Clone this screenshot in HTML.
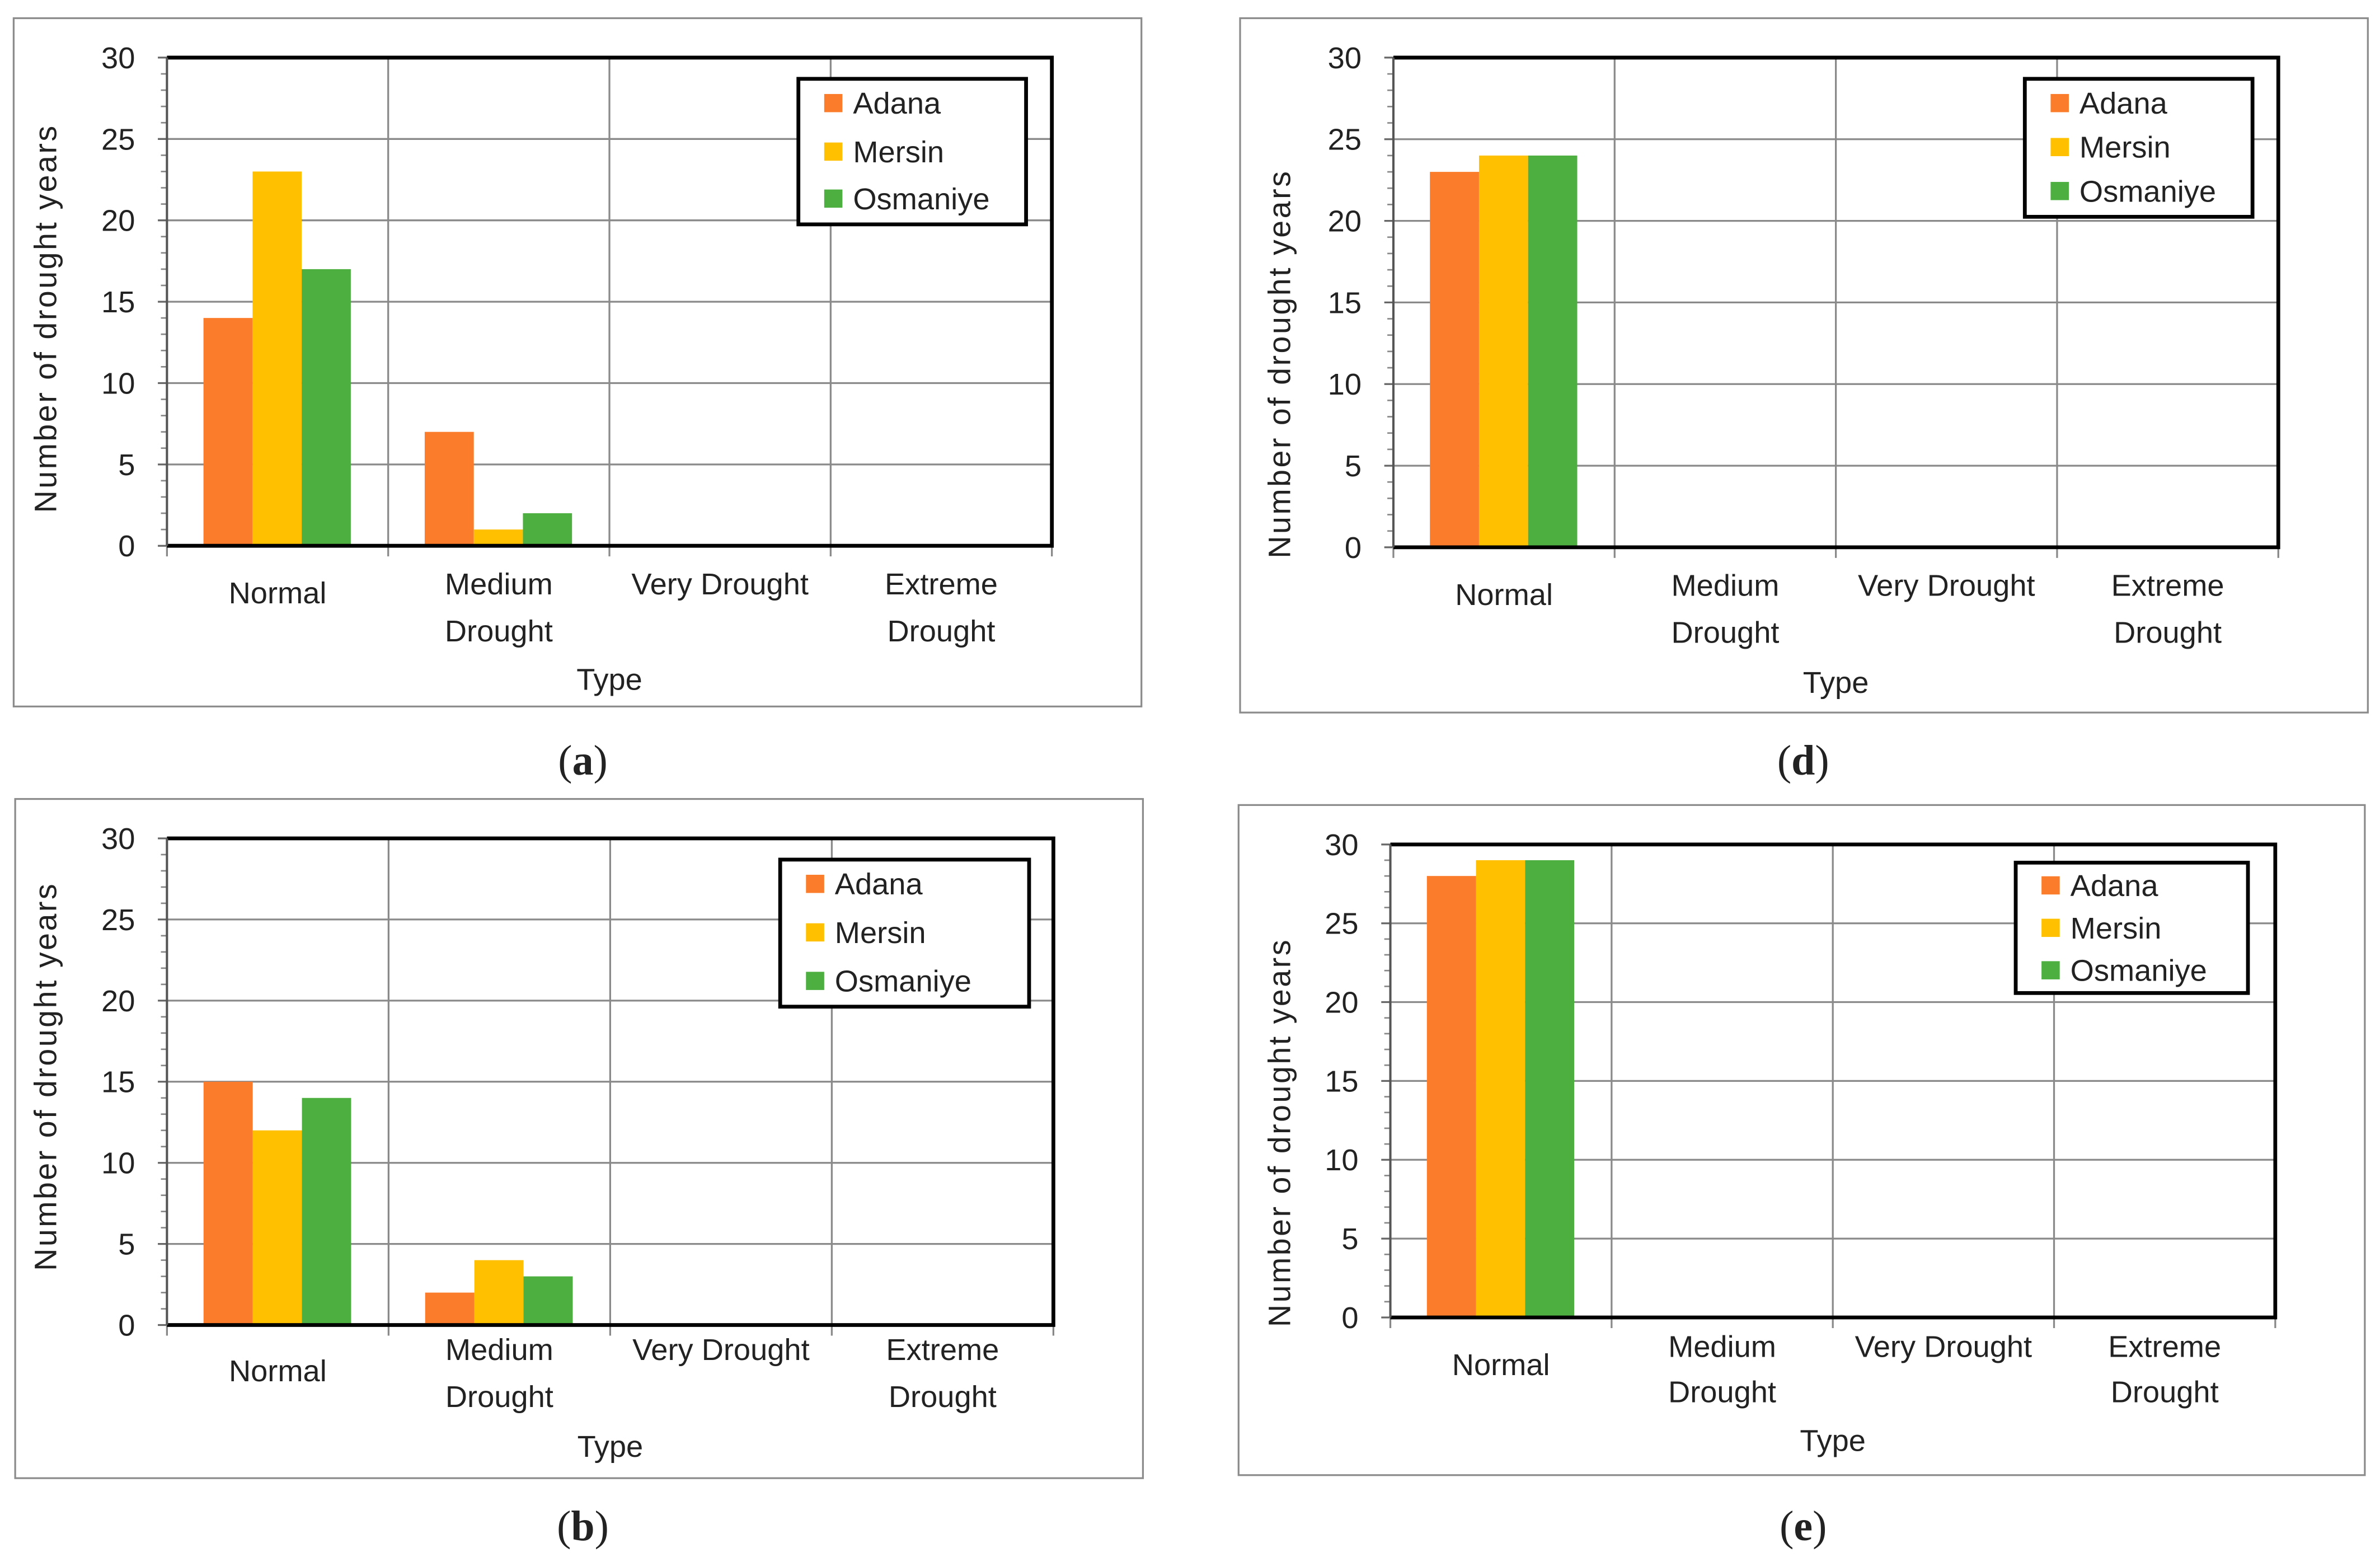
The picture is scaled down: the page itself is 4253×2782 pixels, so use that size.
<!DOCTYPE html>
<html><head><meta charset="utf-8"><style>
html,body{margin:0;padding:0;background:#fff}
svg{display:block}
text{font-family:"Liberation Sans",sans-serif;fill:#222}
</style></head><body>
<svg id="fig" width="4253" height="2782" viewBox="0 0 1568 1027" preserveAspectRatio="none" xmlns="http://www.w3.org/2000/svg"></svg>
<script>
const categories = ["Normal","Medium Drought","Very Drought","Extreme Drought"];
const seriesNames = ["Adana","Mersin","Osmaniye"];
const seriesColors = ["#fb7d2b","#ffc000","#4caf3f"];
const yTicks = [0,5,10,15,20,25,30];
const valuesA = [[14,7,0,0],[23,1,0,0],[17,2,0,0]];
const valuesB = [[15,2,0,0],[12,4,0,0],[14,3,0,0]];
const valuesD = [[23,0,0,0],[24,0,0,0],[24,0,0,0]];
const valuesE = [[28,0,0,0],[29,0,0,0],[29,0,0,0]];

const panels = [
 {id:"a",vals:valuesA,box:[9,12,752,466],plot:[110,38,693,360],leg:[526,52,676,148],legY:[68,100,131],lab1:391,lab2:[385,416],typeY:448,ytx:30,ytc:210,cap:[384,502]},
 {id:"d",vals:valuesD,box:[817,12,1560,470],plot:[918,38,1501,361],leg:[1334,52,1484,143],legY:[68,97,126],lab1:392,lab2:[386,417],typeY:450,ytx:843,ytc:240,cap:[1188,502]},
 {id:"b",vals:valuesB,box:[10,527,753,975],plot:[110,553,694,874],leg:[514,567,678,664],legY:[583,615,647],lab1:904,lab2:[890,921],typeY:954,ytx:30,ytc:710,cap:[384,1007]},
 {id:"e",vals:valuesE,box:[816,531,1558,973],plot:[916,557,1499,869],leg:[1328,569,1481,655],legY:[584,612,640],lab1:900,lab2:[888,918],typeY:950,ytx:843,ytc:747,cap:[1188,1007]}
];
const NS="http://www.w3.org/2000/svg";
const svg=document.getElementById("fig");
function mk(tag,attrs,parent,txt){const e=document.createElementNS(NS,tag);for(const k in attrs)e.setAttribute(k,attrs[k]);if(txt!==undefined)e.textContent=txt;parent.appendChild(e);return e;}
panels.forEach(p=>{
  const g=mk("g",{},svg);
  
  
  const [bx0,by0,bx1,by1]=p.box;
  const fr=mk("rect",{x:bx0,y:by0,width:bx1-bx0,height:by1-by0,fill:"#fff",stroke:"#8c8c8c","stroke-width":1.2},g);
  
  
  const [x0,y0,x1,y1]=p.plot;
  const ys=v=>y1-(v/30)*(y1-y0);
  const cw=(x1-x0)/categories.length;
  const xs=i=>x0+i*cw;
  yTicks.forEach(t=>{
    if(t>0&&t<30){const l=mk("line",{x1:x0,x2:x1,y1:ys(t),y2:ys(t),stroke:"#8a8a8a","stroke-width":1.2},g);
    
    }
    const tl=mk("text",{x:x0-21,y:ys(t)+7,"text-anchor":"end","font-size":20},g,String(t));
    
    
    mk("line",{x1:x0-6,x2:x0,y1:ys(t),y2:ys(t),stroke:"#666","stroke-width":1.2},g);
  });
  for(let m=1;m<30;m++){ if(m%5) mk("line",{x1:x0-4,x2:x0,y1:ys(m),y2:ys(m),stroke:"#888","stroke-width":1},g); }
  for(let i=1;i<categories.length;i++){
    const l=mk("line",{x1:xs(i),x2:xs(i),y1:y0,y2:y1+7,stroke:"#8a8a8a","stroke-width":1.2},g);
    
    
  }
  mk("line",{x1:x0,x2:x0,y1:y1,y2:y1+7,stroke:"#888","stroke-width":1.2},g);
  mk("line",{x1:x1,x2:x1,y1:y1,y2:y1+7,stroke:"#888","stroke-width":1.2},g);
  const bw=cw*0.222, off=cw*0.165;
  p.vals.forEach((arr,s)=>{
    arr.forEach((v,i)=>{
      if(v<=0)return;
      const r=mk("rect",{x:xs(i)+off+s*bw,y:ys(v),width:bw,height:y1-ys(v),fill:seriesColors[s]},g);
      
      
    });
  });
  mk("polyline",{points:`${x0},${y0} ${x1},${y0} ${x1},${y1} ${x0},${y1}`,fill:"none",stroke:"#000","stroke-width":2.5},g);
  mk("line",{x1:x0,x2:x0,y1:y0,y2:y1,stroke:"#555","stroke-width":1.5},g);
  categories.forEach((c,i)=>{
    const cx=xs(i)+cw/2;
    const parts=(c==="Very Drought"||c==="Normal")?[c]:c.split(" ");
    if(parts.length===1){
      const yy=c==="Normal"?p.lab1:p.lab2[0];
      const t=mk("text",{x:cx,y:yy+7,"text-anchor":"middle","font-size":20},g,c);
      
      
    }else{
      parts.forEach((pt,k)=>{
        const t=mk("text",{x:cx,y:p.lab2[k]+7,"text-anchor":"middle","font-size":20},g,pt);
        
        
      });
    }
  });
  const tt=mk("text",{x:(x0+x1)/2,y:p.typeY+7,"text-anchor":"middle","font-size":20},g,"Type");
  
  
  const ycy=p.ytc;
  const yt=mk("text",{x:p.ytx+7,y:ycy,"text-anchor":"middle","font-size":20.5,"letter-spacing":1.3,transform:`rotate(-90 ${p.ytx+7} ${ycy})`},g,"Number of drought years");
  
  
  const [lx0,ly0,lx1,ly1]=p.leg;
  const lg=mk("rect",{x:lx0,y:ly0,width:lx1-lx0,height:ly1-ly0,fill:"#fff",stroke:"#000","stroke-width":2.5},g);
  
  
  seriesNames.forEach((n,s)=>{
    const yy=p.legY[s];
    mk("rect",{x:lx0+17,y:yy-6,width:12,height:12,fill:seriesColors[s]},g);
    const t=mk("text",{x:lx0+36,y:yy+7,"font-size":20},g,n);
    
    
  });
  const cap=mk("text",{x:p.cap[0],y:p.cap[1]+9,"text-anchor":"middle","font-size":28,style:"font-family:'Liberation Serif',serif"},g,"");
  
  
  mk("tspan",{},cap,"(");
  mk("tspan",{"font-weight":"bold"},cap,p.id);
  mk("tspan",{},cap,")");
});
</script>
</body></html>
